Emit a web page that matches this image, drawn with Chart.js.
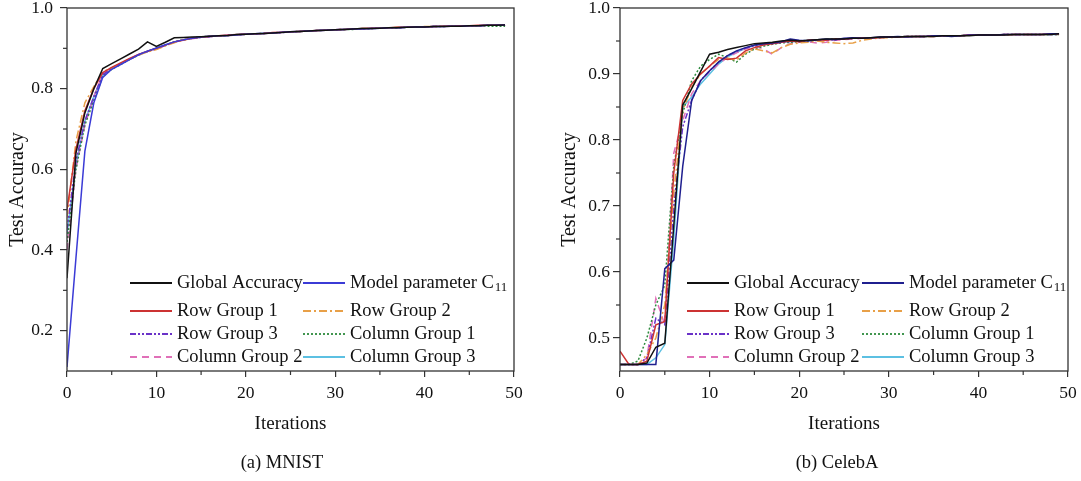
<!DOCTYPE html>
<html>
<head>
<meta charset="utf-8">
<script src="https://cdn.jsdelivr.net/npm/chart.js@4.4.1/dist/chart.umd.min.js"></script>
<style>
  body { margin: 0; background: #fff; }
  #wrap { position: relative; width: 1081px; height: 481px; font-family: "Liberation Serif", "Times New Roman", serif; }
  .box { position: absolute; top: 0; height: 481px; }
  .cap { position: absolute; top: 452px; width: 200px; text-align: center; font-size: 18.5px; color: #111; }
</style>
</head>
<body>
<div id="wrap">
  <div class="box" style="left:0;width:540px"><canvas id="mnist"></canvas></div>
  <div class="box" style="left:540px;width:541px"><canvas id="celeba"></canvas></div>
  <div class="cap" style="left:182px">(a) MNIST</div>
  <div class="cap" style="left:737px">(b) CelebA</div>
</div>
<script>
var iterations = [];
for (var i = 0; i < 50; i++) iterations.push(i);

var seriesNames = ['Global Accuracy', 'Model parameter C11', 'Row Group 1', 'Row Group 2',
  'Row Group 3', 'Column Group 1', 'Column Group 2', 'Column Group 3'];

// MNIST
var mnistGlobal = [0.33,0.64,0.74,0.80,0.850,0.862,0.874,0.886,0.898,0.916, 0.905,0.915,0.926,0.927,0.928,0.929,0.930,0.931,0.932,0.934, 0.935,0.936,0.937,0.938,0.939,0.941,0.942,0.943,0.944,0.945, 0.946,0.947,0.948,0.949,0.949,0.950,0.951,0.951,0.952,0.953, 0.953,0.954,0.954,0.955,0.955,0.956,0.956,0.957,0.957,0.958];
var mnistC11 = [0.11,0.38,0.645,0.765,0.828,0.848,0.860,0.872,0.884,0.893, 0.901,0.909,0.916,0.921,0.925,0.928,0.930,0.931,0.932,0.933, 0.935,0.936,0.937,0.938,0.940,0.941,0.942,0.943,0.944,0.945, 0.946,0.947,0.948,0.948,0.949,0.950,0.951,0.951,0.952,0.953, 0.953,0.954,0.954,0.955,0.955,0.956,0.956,0.957,0.957,0.958];
var mnistRow1 = [0.50,0.65,0.745,0.800,0.840,0.853,0.864,0.875,0.885,0.893, 0.900,0.908,0.916,0.921,0.925,0.928,0.930,0.931,0.933,0.934, 0.935,0.936,0.937,0.939,0.940,0.941,0.942,0.943,0.944,0.945, 0.946,0.947,0.948,0.949,0.950,0.950,0.951,0.952,0.952,0.953, 0.953,0.954,0.955,0.955,0.956,0.956,0.957,0.957,0.957,0.958];
var mnistRow2 = [0.48,0.67,0.765,0.805,0.842,0.852,0.862,0.873,0.883,0.891, 0.897,0.906,0.914,0.920,0.925,0.928,0.929,0.931,0.932,0.933, 0.935,0.936,0.937,0.938,0.940,0.941,0.942,0.943,0.944,0.945, 0.946,0.947,0.948,0.949,0.949,0.950,0.951,0.952,0.952,0.953, 0.954,0.954,0.955,0.955,0.956,0.956,0.956,0.957,0.957,0.958];
var mnistRow3 = [0.45,0.62,0.72,0.78,0.835,0.850,0.862,0.873,0.884,0.892, 0.899,0.907,0.915,0.921,0.925,0.927,0.929,0.931,0.932,0.934, 0.935,0.936,0.937,0.938,0.939,0.940,0.942,0.943,0.944,0.945, 0.946,0.947,0.948,0.948,0.949,0.950,0.951,0.951,0.952,0.953, 0.953,0.954,0.954,0.955,0.955,0.956,0.956,0.957,0.957,0.958];
var mnistCol1 = [0.42,0.60,0.71,0.77,0.830,0.848,0.860,0.872,0.883,0.892, 0.900,0.908,0.916,0.921,0.925,0.928,0.930,0.931,0.932,0.933, 0.935,0.936,0.937,0.938,0.940,0.941,0.942,0.943,0.944,0.945, 0.946,0.947,0.947,0.948,0.949,0.950,0.951,0.951,0.952,0.953, 0.953,0.954,0.954,0.955,0.955,0.955,0.956,0.955,0.955,0.955];
var mnistCol2 = [0.40,0.60,0.71,0.78,0.835,0.850,0.862,0.874,0.884,0.892, 0.899,0.907,0.915,0.920,0.924,0.927,0.929,0.931,0.932,0.933, 0.935,0.936,0.937,0.938,0.939,0.941,0.942,0.943,0.944,0.945, 0.946,0.947,0.948,0.948,0.949,0.950,0.951,0.951,0.952,0.953, 0.953,0.954,0.954,0.955,0.955,0.956,0.956,0.957,0.957,0.957];
var mnistCol3 = [0.44,0.61,0.72,0.78,0.833,0.849,0.861,0.873,0.884,0.893, 0.900,0.908,0.916,0.921,0.925,0.928,0.930,0.931,0.932,0.934, 0.935,0.936,0.937,0.938,0.940,0.941,0.942,0.943,0.944,0.945, 0.946,0.947,0.948,0.949,0.949,0.950,0.951,0.952,0.952,0.953, 0.953,0.954,0.955,0.955,0.956,0.956,0.956,0.957,0.957,0.958];

// CelebA
var celebGlobal = [0.46,0.46,0.46,0.462,0.486,0.492,0.67,0.853,0.878,0.904, 0.930,0.933,0.937,0.940,0.943,0.946,0.947,0.948,0.950,0.951, 0.950,0.951,0.952,0.953,0.953,0.953,0.954,0.954,0.955,0.956, 0.956,0.956,0.957,0.957,0.957,0.957,0.958,0.958,0.958,0.958, 0.959,0.959,0.959,0.959,0.960,0.960,0.960,0.960,0.960,0.961];
var celebC11 = [0.46,0.46,0.46,0.46,0.46,0.605,0.618,0.76,0.86,0.89, 0.905,0.918,0.928,0.935,0.940,0.944,0.946,0.947,0.949,0.953, 0.951,0.950,0.952,0.953,0.952,0.954,0.955,0.954,0.955,0.956, 0.956,0.957,0.956,0.957,0.957,0.958,0.958,0.957,0.958,0.959, 0.959,0.959,0.959,0.960,0.960,0.960,0.960,0.960,0.961,0.961];
var celebRow1 = [0.48,0.46,0.46,0.465,0.52,0.525,0.75,0.86,0.885,0.90, 0.912,0.925,0.922,0.924,0.935,0.940,0.944,0.946,0.948,0.950, 0.949,0.951,0.952,0.951,0.953,0.953,0.954,0.955,0.955,0.955, 0.956,0.956,0.957,0.957,0.957,0.958,0.958,0.958,0.958,0.959, 0.959,0.959,0.959,0.960,0.960,0.960,0.960,0.960,0.961,0.961];
var celebRow2 = [0.46,0.46,0.46,0.475,0.50,0.55,0.72,0.845,0.88,0.90, 0.912,0.922,0.924,0.921,0.932,0.938,0.935,0.932,0.940,0.945, 0.947,0.948,0.950,0.948,0.947,0.946,0.947,0.951,0.953,0.955, 0.955,0.956,0.956,0.957,0.957,0.957,0.958,0.958,0.958,0.959, 0.959,0.959,0.959,0.959,0.960,0.960,0.960,0.960,0.960,0.960];
var celebRow3 = [0.46,0.46,0.46,0.47,0.53,0.52,0.70,0.82,0.86,0.89, 0.905,0.918,0.928,0.934,0.939,0.943,0.945,0.946,0.948,0.949, 0.950,0.951,0.952,0.951,0.952,0.953,0.954,0.954,0.955,0.955, 0.956,0.956,0.957,0.957,0.957,0.958,0.958,0.958,0.958,0.959, 0.959,0.959,0.959,0.960,0.960,0.960,0.960,0.960,0.960,0.960];
var celebCol1 = [0.46,0.46,0.465,0.50,0.55,0.58,0.76,0.84,0.89,0.912, 0.922,0.930,0.925,0.918,0.930,0.938,0.942,0.945,0.947,0.948, 0.949,0.950,0.951,0.952,0.953,0.953,0.954,0.954,0.955,0.955, 0.956,0.956,0.957,0.957,0.957,0.958,0.958,0.958,0.958,0.959, 0.959,0.959,0.959,0.960,0.960,0.960,0.960,0.960,0.960,0.960];
var celebCol2 = [0.46,0.46,0.46,0.47,0.56,0.52,0.78,0.83,0.87,0.89, 0.903,0.915,0.925,0.932,0.938,0.942,0.938,0.930,0.940,0.946, 0.948,0.949,0.947,0.948,0.951,0.952,0.953,0.954,0.955,0.955, 0.956,0.956,0.956,0.957,0.957,0.957,0.958,0.958,0.958,0.959, 0.959,0.959,0.959,0.960,0.960,0.960,0.960,0.960,0.960,0.961];
var celebCol3 = [0.46,0.46,0.46,0.46,0.47,0.49,0.65,0.85,0.865,0.885, 0.90,0.915,0.926,0.933,0.939,0.943,0.945,0.947,0.948,0.949, 0.950,0.951,0.951,0.952,0.953,0.953,0.954,0.954,0.955,0.955, 0.956,0.956,0.957,0.957,0.957,0.958,0.958,0.958,0.958,0.959, 0.959,0.959,0.959,0.960,0.960,0.960,0.960,0.960,0.960,0.960];

var mnistYTicks = [0.2, 0.4, 0.6, 0.8, 1.0];
var celebYTicks = [0.5, 0.6, 0.7, 0.8, 0.9, 1.0];

var FONT = '"Liberation Serif", "Times New Roman", serif';

var styles = [
  { color: '#111111', dash: [] },
  { color: null, dash: [] },
  { color: '#cc3333', dash: [] },
  { color: '#e8a048', dash: [8, 3, 2, 3] },
  { color: '#6a32c8', dash: [6, 2, 2, 2, 2, 2] },
  { color: '#2e8b3e', dash: [2, 2] },
  { color: '#e070b8', dash: [7, 5] },
  { color: '#5cc0e2', dash: [] }
];

// draws frame, minor ticks and the in-plot legend
var extras = {
  id: 'extras',
  afterDraw: function(chart, args, opts) {
    var ctx = chart.ctx, a = chart.chartArea;
    var x = chart.scales.x, y = chart.scales.y;
    ctx.save();
    ctx.strokeStyle = '#333';
    ctx.lineWidth = 1.3;
    ctx.strokeRect(a.left, a.top, a.right - a.left, a.bottom - a.top);
    ctx.lineWidth = 1.2;
    opts.xMinor.forEach(function(v) {
      var px = x.getPixelForValue(v);
      ctx.beginPath(); ctx.moveTo(px, a.bottom); ctx.lineTo(px, a.bottom + 4); ctx.stroke();
    });
    opts.yMinor.forEach(function(v) {
      var py = y.getPixelForValue(v);
      ctx.beginPath(); ctx.moveTo(a.left, py); ctx.lineTo(a.left - 4, py); ctx.stroke();
    });

    // legend
    var big = '18.5px ' + FONT;
    ctx.font = big;
    ctx.textBaseline = 'middle';
    chart.data.datasets.forEach(function(ds, i) {
      var row = Math.floor(i / 2), col = i % 2;
      var lx = a.left + opts.legendX[col];
      var ly = a.bottom - opts.legendRows[row];
      ctx.strokeStyle = ds.borderColor;
      ctx.lineWidth = 1.8;
      ctx.setLineDash(ds.borderDash || []);
      ctx.beginPath(); ctx.moveTo(lx, ly); ctx.lineTo(lx + 42, ly); ctx.stroke();
      ctx.setLineDash([]);
      ctx.fillStyle = '#111';
      var tx = lx + 47;
      if (ds.label === 'Model parameter C11') {
        var base = 'Model parameter C';
        ctx.font = big;
        ctx.fillText(base, tx, ly);
        var w = ctx.measureText(base).width;
        ctx.font = '13px ' + FONT;
        ctx.fillText('11', tx + w + 1, ly + 5);
        ctx.font = big;
      } else {
        ctx.fillText(ds.label, tx, ly);
      }
    });
    ctx.restore();
  }
};

function makeChart(id, series, c11Color, yMin, yTicks, yMinor, pad, yWidth, tickPad, titlePad, legendX) {
  var datasets = series.map(function(vals, i) {
    return {
      label: seriesNames[i],
      data: vals.map(function(v, k) { return { x: iterations[k], y: v }; }),
      borderColor: styles[i].color || c11Color,
      borderDash: styles[i].dash,
      borderWidth: 1.5,
      pointRadius: 0,
      fill: false,
      tension: 0
    };
  });
  return new Chart(document.getElementById(id).getContext('2d'), {
    type: 'line',
    data: { datasets: datasets },
    options: {
      responsive: true,
      maintainAspectRatio: false,
      animation: false,
      layout: { padding: pad },
      plugins: {
        legend: { display: false },
        tooltip: { enabled: false },
        extras: {
          xMinor: [5, 15, 25, 35, 45],
          yMinor: yMinor,
          legendX: legendX,
          legendRows: [88, 60, 37, 14]
        }
      },
      scales: {
        x: {
          type: 'linear',
          min: 0, max: 50,
          border: { display: false },
          grid: { drawOnChartArea: false, tickLength: 6, color: '#333', lineWidth: 1.2 },
          ticks: { stepSize: 10, color: '#111', font: { family: FONT, size: 17.5 }, padding: 6, maxRotation: 0 },
          title: { display: true, text: 'Iterations', color: '#111', font: { family: FONT, size: 19 }, padding: { top: 4, bottom: 0 } },
          afterFit: function(s) { s.height = 64; s.paddingLeft = 0; s.paddingRight = 0; }
        },
        y: {
          min: yMin, max: 1.0,
          border: { display: false },
          grid: { drawOnChartArea: false, tickLength: 7, color: '#333', lineWidth: 1.2 },
          ticks: {
            color: '#111', font: { family: FONT, size: 17.5 }, padding: tickPad,
            callback: function(v) { return Number(v).toFixed(1); }
          },
          afterBuildTicks: function(s) { s.ticks = yTicks.map(function(v) { return { value: v }; }); },
          title: { display: true, text: 'Test Accuracy', color: '#111', font: { family: FONT, size: 20 }, padding: { top: titlePad, bottom: 0 } },
          afterFit: function(s) { s.width = yWidth; s.paddingTop = 0; s.paddingBottom = 0; }
        }
      }
    },
    plugins: [extras]
  });
}

makeChart('mnist',
  [mnistGlobal, mnistC11, mnistRow1, mnistRow2, mnistRow3, mnistCol1, mnistCol2, mnistCol3],
  '#3b3bd6', 0.1, mnistYTicks, [0.3, 0.5, 0.7, 0.9],
  { top: 8, right: 26, bottom: 46, left: 0 }, 67, 7, 6, [63, 236]);

makeChart('celeba',
  [celebGlobal, celebC11, celebRow1, celebRow2, celebRow3, celebCol1, celebCol2, celebCol3],
  '#1f1f8f', 0.45, celebYTicks, [0.55, 0.65, 0.75, 0.85, 0.95],
  { top: 8, right: 13, bottom: 46, left: 0 }, 80, 3, 18, [67, 242]);
</script>
</body>
</html>
